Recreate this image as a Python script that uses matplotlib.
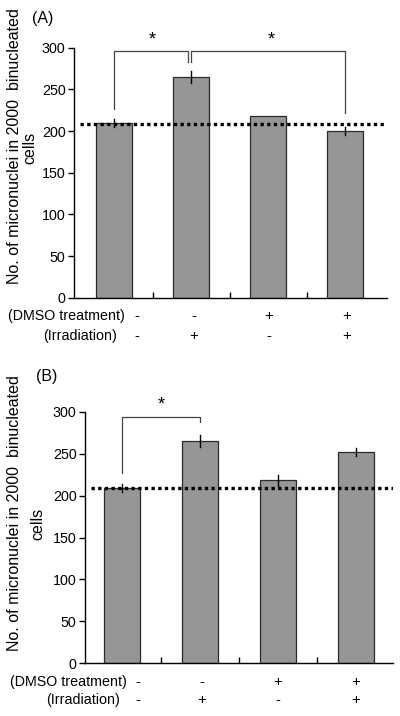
import matplotlib
matplotlib.use("Agg")
import matplotlib.pyplot as plt
from matplotlib.transforms import blended_transform_factory

plt.rcParams['font.family'] = ['Liberation Sans', 'DejaVu Sans']

# ---- data ----
dmso = ['-', '-', '+', '+']
irrad = ['-', '+', '-', '+']
vals_a = [210, 265, 218, 200]
err_a = [5, 7, 0, 5]
vals_b = [209, 265, 218, 252]
err_b = [5, 7, 7, 5]
baseline_a = 208
baseline_b = 208.5
yticks = [0, 50, 100, 150, 200, 250, 300]
ylabel1 = 'No. of micronuclei in 2000  binucleated'
ylabel2 = 'cells'

W, H = 400, 716
fig = plt.figure(figsize=(4, 7.16), dpi=100)


def fx(px):
    return px / W


def fy(py):
    return 1 - py / H


BAR_COLOR = '#969696'
EDGE = '#2b2b2b'
FS = 10.3


def panel(rect, vals, errs, base, xlim, brackets, stars, label, label_xy,
          yl1_xy, yl2_xy, row_y, row_label_right, sign_offsets):
    ax = fig.add_axes(rect)
    x = list(range(len(vals)))
    ax.bar(x, vals, width=0.47, color=BAR_COLOR, edgecolor=EDGE, linewidth=0.9, zorder=2)
    for xi, v, e in zip(x, vals, errs):
        if e > 0:
            ax.plot([xi, xi], [v - e, v + e], color='black', lw=1.0, zorder=3)
    ax.axhline(base, color='black', lw=2.4, linestyle=(0, (1, 1)), zorder=4,
               xmin=0.02, xmax=1.0)
    ax.set_xlim(*xlim)
    ax.set_ylim(0, 300)
    ax.set_yticks(yticks)
    ax.set_yticklabels([str(t) for t in yticks], fontsize=FS)
    ax.set_xticks([0.5, 1.5, 2.5])
    ax.set_xticklabels([])
    ax.tick_params(axis='x', direction='in', length=4, width=1)
    ax.tick_params(axis='y', direction='out', length=4, width=1, pad=2)
    for s in ['top', 'right']:
        ax.spines[s].set_visible(False)
    ax.spines['left'].set_linewidth(1.0)
    ax.spines['bottom'].set_linewidth(1.0)
    for (x0, y0, x1, y1, ytop) in brackets:
        ax.plot([x0, x0, x1, x1], [y0, ytop, ytop, y1], color='#444444', lw=0.9,
                clip_on=False, zorder=5)
    for (sx, sy) in stars:
        ax.text(sx, sy - 3, '*', ha='center', va='center', fontsize=13, clip_on=False)
    fig.text(fx(label_xy[0]), fy(label_xy[1]), label, fontsize=11.5, ha='left', va='center')
    fig.text(fx(yl1_xy[0]), fy(yl1_xy[1]), ylabel1, rotation=90, fontsize=11.5,
             ha='center', va='center')
    fig.text(fx(yl2_xy[0]), fy(yl2_xy[1]), ylabel2, rotation=90, fontsize=11.5,
             ha='center', va='center')
    fig.text(fx(row_label_right[0]), fy(row_y[0]), '(DMSO treatment)', fontsize=FS,
             ha='right', va='center')
    fig.text(fx(row_label_right[1]), fy(row_y[1]), '(Irradiation)', fontsize=FS,
             ha='right', va='center')
    bt = blended_transform_factory(ax.transData, fig.transFigure)
    for i, (d, r) in enumerate(zip(dmso, irrad)):
        xd = i + sign_offsets[i]
        ax.text(xd, fy(row_y[0]), d, transform=bt, ha='center', va='center', fontsize=FS + 0.5,
                clip_on=False)
        ax.text(xd, fy(row_y[1]), r, transform=bt, ha='center', va='center', fontsize=FS + 0.5,
                clip_on=False)
    return ax


# Panel A
panel([fx(74), fy(297.7), fx(387 - 74), 250 / H], vals_a, err_a, baseline_a,
      (-0.52, 3.545),
      brackets=[(0, 226.5, 0.96, 283, 296), (1.0, 283, 3.0, 221.7, 296)],
      stars=[(0.49, 312), (2.04, 312)],
      label='(A)', label_xy=(32, 19),
      yl1_xy=(15, 146), yl2_xy=(30, 148),
      row_y=(315.7, 335.7), row_label_right=(125, 117),
      sign_offsets=[0.29, 0.03, 0.01, 0.02])

# Panel B
panel([fx(85), fy(663.3), fx(393 - 85), 251.6 / H], vals_b, err_b, baseline_b,
      (-0.474, 3.474),
      brackets=[(0, 227, 1.0, 288, 294)],
      stars=[(0.5, 310.6)],
      label='(B)', label_xy=(36, 377),
      yl1_xy=(15, 513), yl2_xy=(38, 524),
      row_y=(682.3, 700.3), row_label_right=(126.7, 120),
      sign_offsets=[0.2, 0.02, 0.0, 0.0])

fig.savefig('out.png', dpi=100)
